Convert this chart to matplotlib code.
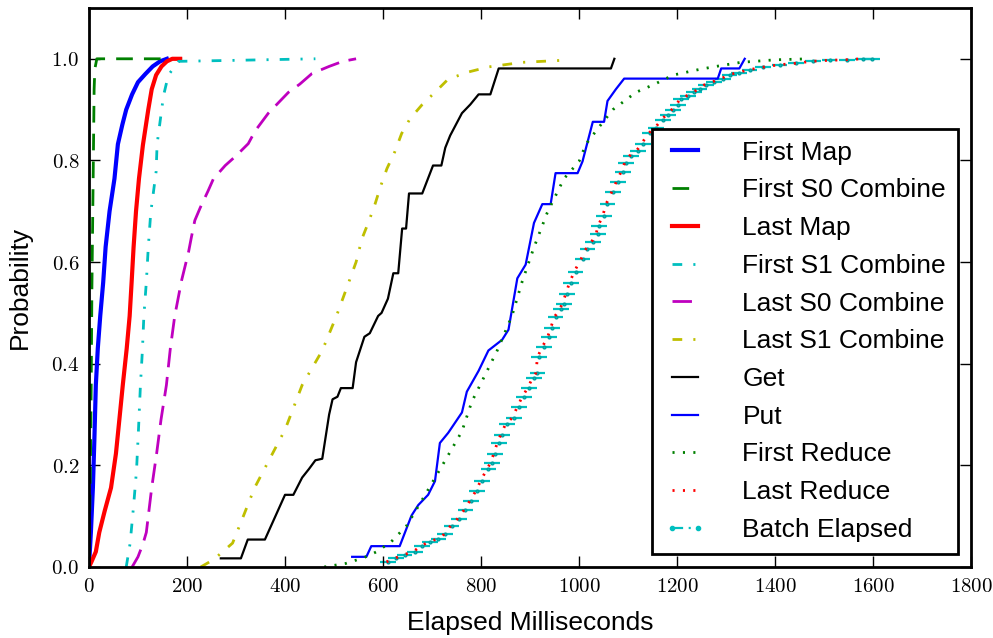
import numpy as np
import matplotlib
matplotlib.use('Agg')
import matplotlib.pyplot as plt
from matplotlib.ticker import FuncFormatter
from matplotlib.lines import Line2D

plt.rcParams['font.family'] = ['Liberation Sans', 'DejaVu Sans']
plt.rcParams['mathtext.fontset'] = 'cm'
plt.rcParams['lines.scale_dashes'] = False

# CDF curves: (milliseconds, probability)
first_map_x = [0, 4, 8, 11, 14, 18, 23, 29, 34, 42, 52, 59, 68, 76, 88, 100, 115, 130, 145, 159]
first_map_y = [0, 0.07, 0.156, 0.25, 0.358, 0.43, 0.494, 0.56, 0.63, 0.70, 0.764, 0.832, 0.87, 0.90, 0.93, 0.954, 0.97, 0.985, 0.995, 1.0]

first_s0_x = [0, 3, 4.5, 6, 8, 9.5, 10.5, 12, 16, 190]
first_s0_y = [0, 0.2, 0.35, 0.55, 0.72, 0.85, 0.94, 0.98, 1.0, 1.0]

last_map_x = [0, 5, 14, 21, 32, 45, 55, 62, 69, 77, 83, 87, 91, 96, 102, 110, 121, 128, 137, 148, 159, 170, 186]
last_map_y = [0, 0.01, 0.03, 0.068, 0.11, 0.156, 0.223, 0.29, 0.358, 0.43, 0.494, 0.56, 0.629, 0.70, 0.764, 0.83, 0.90, 0.94, 0.968, 0.985, 0.995, 1.0, 1.0]

first_s1_x = [76, 84, 91, 97, 101, 105, 109, 112, 117, 121, 126, 137, 139, 152, 162, 183, 300, 462]
first_s1_y = [0, 0.047, 0.12, 0.19, 0.27, 0.358, 0.426, 0.494, 0.56, 0.629, 0.697, 0.778, 0.832, 0.927, 0.968, 0.995, 0.997, 1.0]

last_s0_x = [88, 100, 110, 117, 128, 138, 147, 158, 166, 175, 189, 203, 209, 216, 227, 243, 254, 278, 300, 325, 339, 366, 407, 430, 455, 490, 518, 545]
last_s0_y = [0, 0.02, 0.045, 0.068, 0.156, 0.223, 0.29, 0.358, 0.43, 0.494, 0.564, 0.619, 0.649, 0.682, 0.707, 0.74, 0.764, 0.79, 0.809, 0.833, 0.858, 0.893, 0.934, 0.95, 0.971, 0.985, 0.995, 1.0]

last_s1_x = [228, 255, 293, 315, 338, 370, 400, 435, 476, 505, 530, 545, 557, 571, 584, 595, 608, 624, 638, 655, 680, 708, 733, 774, 815, 884, 966]
last_s1_y = [0, 0.015, 0.047, 0.10, 0.156, 0.215, 0.27, 0.358, 0.426, 0.494, 0.56, 0.60, 0.646, 0.68, 0.715, 0.749, 0.784, 0.817, 0.853, 0.882, 0.91, 0.936, 0.96, 0.974, 0.984, 0.993, 0.997]

get_x = [269, 310, 324, 359, 400, 417, 435, 449, 462, 476, 490, 497, 507, 514, 538, 545, 562, 573, 590, 597, 610, 621, 631, 639, 647, 653, 680, 702, 719, 727, 737, 761, 778, 795, 819, 836, 1065, 1072]
get_y = [0.017, 0.017, 0.054, 0.054, 0.142, 0.142, 0.176, 0.193, 0.21, 0.213, 0.30, 0.33, 0.335, 0.352, 0.352, 0.403, 0.453, 0.46, 0.494, 0.50, 0.528, 0.578, 0.578, 0.666, 0.666, 0.735, 0.735, 0.79, 0.79, 0.825, 0.849, 0.893, 0.91, 0.93, 0.93, 0.981, 0.981, 1.0]

put_x = [537, 566, 576, 634, 658, 672, 692, 706, 716, 733, 761, 771, 795, 815, 843, 856, 874, 891, 908, 925, 942, 952, 997, 1007, 1028, 1051, 1058, 1075, 1092, 1283, 1290, 1327, 1338]
put_y = [0.02, 0.02, 0.041, 0.041, 0.101, 0.122, 0.142, 0.169, 0.244, 0.264, 0.304, 0.345, 0.386, 0.426, 0.447, 0.467, 0.568, 0.595, 0.677, 0.714, 0.714, 0.775, 0.775, 0.798, 0.876, 0.876, 0.917, 0.94, 0.961, 0.961, 0.981, 0.981, 1.0]

first_reduce_x = [480, 524, 560, 587, 617, 648, 686, 727, 761, 781, 798, 833, 863, 884, 908, 935, 969, 1000, 1014, 1041, 1069, 1116, 1154, 1192, 1240, 1273, 1330, 1400, 1470]
first_reduce_y = [0, 0.007, 0.018, 0.03, 0.05, 0.081, 0.142, 0.21, 0.267, 0.325, 0.358, 0.426, 0.494, 0.562, 0.629, 0.697, 0.764, 0.798, 0.832, 0.866, 0.90, 0.934, 0.95, 0.968, 0.978, 0.984, 0.993, 0.998, 1.0]

batch_x = [610, 627, 644, 665, 679, 696, 713, 727, 740, 755, 768, 780, 792, 802, 815, 822, 829, 836, 843, 853,
           867, 877, 887, 898, 908, 915, 918, 928, 939, 945, 952, 963, 969, 976, 983, 993, 1007, 1017, 1028, 1038,
           1041, 1051, 1058, 1069, 1079, 1089, 1096, 1106, 1120, 1130, 1144, 1157, 1171, 1181, 1192, 1202,
           1208, 1222, 1235, 1246, 1259, 1276, 1293, 1307, 1327, 1348, 1375, 1409, 1443, 1477, 1511, 1546, 1580, 1598]
batch_y = [0.010, 0.017, 0.024, 0.030, 0.041, 0.049, 0.055, 0.064, 0.080, 0.095, 0.112, 0.130, 0.149, 0.169, 0.193, 0.204, 0.223, 0.244, 0.260, 0.281,
           0.294, 0.315, 0.335, 0.352, 0.372, 0.382, 0.413, 0.433, 0.453, 0.470, 0.491, 0.507, 0.518, 0.538, 0.558, 0.581, 0.606, 0.626, 0.639, 0.656,
           0.670, 0.690, 0.714, 0.737, 0.758, 0.778, 0.795, 0.809, 0.819, 0.832, 0.853, 0.863, 0.880, 0.890, 0.900, 0.910,
           0.920, 0.927, 0.934, 0.940, 0.949, 0.955, 0.961, 0.968, 0.973, 0.978, 0.983, 0.988, 0.991, 0.995, 0.997, 0.998, 1.0, 1.0]
batch_err = 16

last_reduce_x = [607, 624, 641, 662, 676, 693, 710, 724, 737, 752, 765, 777, 789, 799, 812, 819, 826, 833, 840, 850,
                 864, 874, 884, 895, 905, 912, 915, 925, 936, 942, 949, 960, 966, 973, 980, 990, 1004, 1014, 1025, 1035,
                 1038, 1048, 1055, 1066, 1076, 1086, 1093, 1103, 1117, 1127, 1141, 1154, 1168, 1178, 1189, 1199,
                 1205, 1219, 1232, 1243, 1256, 1273, 1290, 1304, 1324, 1345, 1372, 1406, 1440, 1474, 1508, 1543, 1577]
last_reduce_y = batch_y[:-1]

fig = plt.figure(figsize=(9.93, 6.38), dpi=100)
ax = fig.add_axes([0.0896, 0.1113, 0.8884, 0.8762])

ax.plot(first_map_x, first_map_y, color='b', lw=3, label='First Map')
ax.plot(first_s0_x, first_s0_y, color='g', lw=2, dashes=[12, 8], label='First S0 Combine')
ax.plot(last_map_x, last_map_y, color='r', lw=3, label='Last Map')
ax.plot(first_s1_x, first_s1_y, color='c', lw=2, dashes=[7, 8, 1.5, 8], label='First S1 Combine')
ax.plot(last_s0_x, last_s0_y, color='m', lw=2, dashes=[14, 7], label='Last S0 Combine')
ax.plot(last_s1_x, last_s1_y, color='y', lw=2, dashes=[7, 8, 1.5, 8], label='Last S1 Combine')
ax.plot(get_x, get_y, color='k', lw=1.6, label='Get')
ax.plot(put_x, put_y, color='b', lw=1.6, label='Put')
ax.plot(first_reduce_x, first_reduce_y, color='g', lw=2, dashes=[1.5, 6], label='First Reduce')
ax.plot(last_reduce_x, last_reduce_y, color='r', lw=2, dashes=[1.5, 6], label='Last Reduce')
ax.errorbar(batch_x, batch_y, xerr=batch_err, fmt='.', color='c', ecolor='c',
            elinewidth=1.6, markersize=4, mec='#00a0a0', zorder=1)

ax.set_xlim(0, 1800)
ax.set_ylim(0, 1.1)
ax.set_xticks(np.arange(0, 1801, 200))
ax.set_yticks(np.arange(0, 1.01, 0.2))
ax.xaxis.set_major_formatter(FuncFormatter(lambda v, p: r'$%d$' % v))
ax.yaxis.set_major_formatter(FuncFormatter(lambda v, p: r'$%.1f$' % v))
ax.tick_params(direction='in', length=8, width=1, labelsize=15, top=True, right=True, pad=7)
for s in ax.spines.values():
    s.set_linewidth(2)

ax.set_xlabel('Elapsed Milliseconds', fontsize=19, labelpad=11)
ax.set_ylabel('Probability', fontsize=19, labelpad=14)

# legend entry for the error-bar series, drawn like the dash-dot line with dots
handles, labels = ax.get_legend_handles_labels()
handles.append(Line2D([], [], color='c', lw=1.6, dashes=[8, 4, 1.5, 4], marker='.', markersize=6))
labels.append('Batch Elapsed')
leg = ax.legend(handles, labels, loc='lower right', fontsize=19, fancybox=False, framealpha=1,
                edgecolor='k', handlelength=1.6, handletextpad=1.38, borderpad=0.45, labelspacing=0.52,
                numpoints=2)
leg.get_frame().set_linewidth(2)

fig.savefig('out.png', dpi=100)
